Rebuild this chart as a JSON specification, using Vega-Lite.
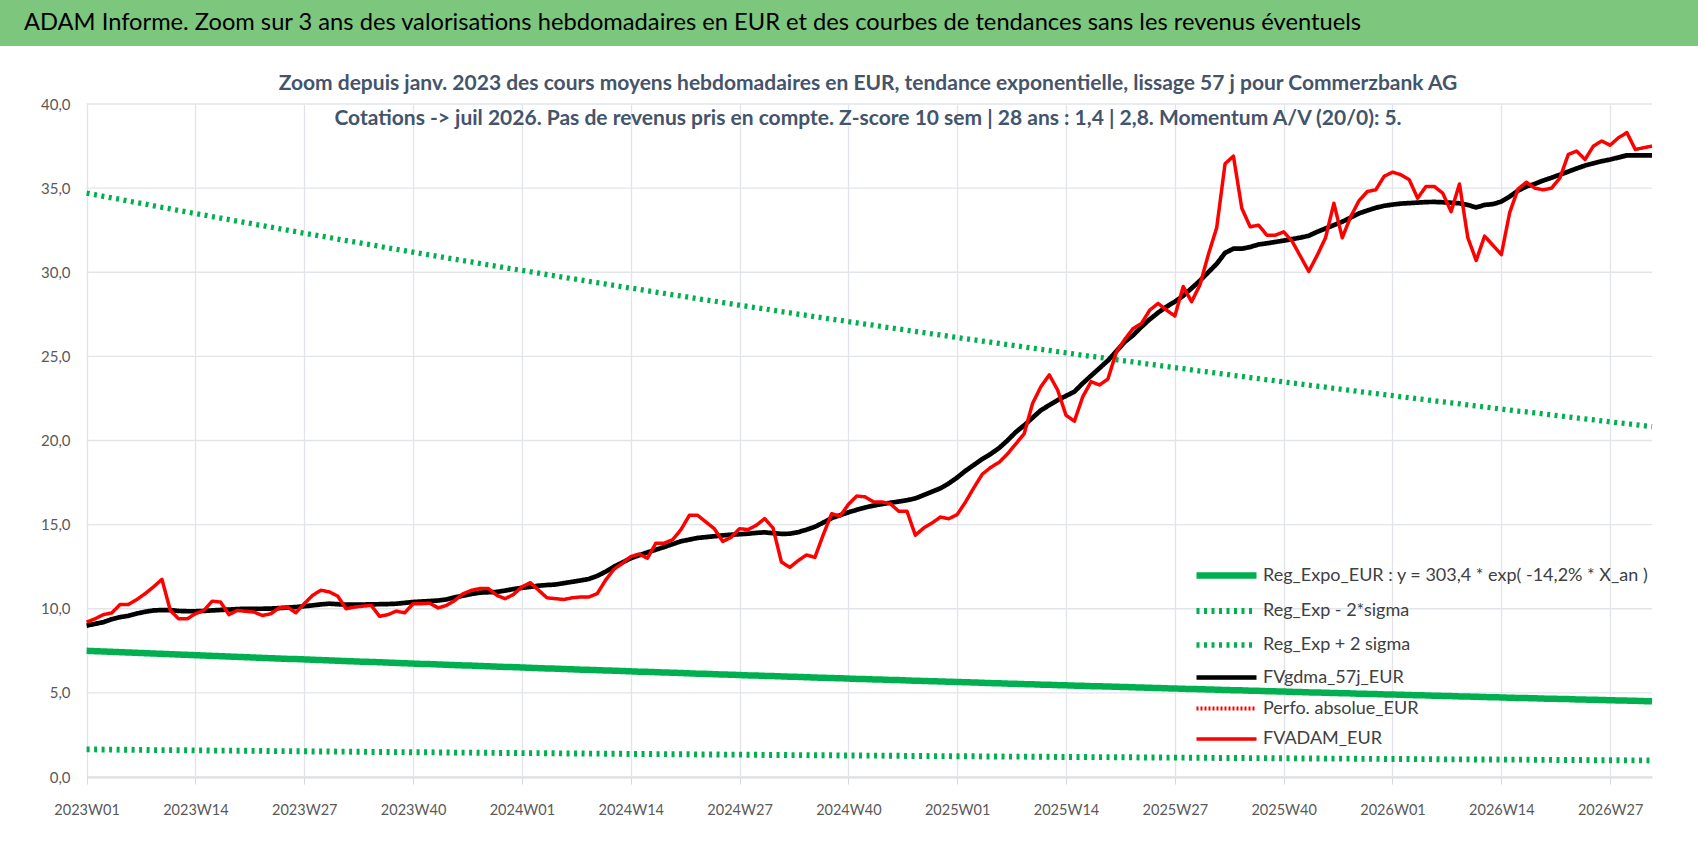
{
  "$schema": "https://vega.github.io/schema/vega-lite/v6.json",
  "background": "white",
  "padding": 0,
  "spacing": 27,
  "columns": 1,
  "align": "none",
  "config": {
    "view": {"stroke": null},
    "font": "Lato",
    "axisX": {
      "labelAngle": 0,
      "labelFontSize": 14.5,
      "labelFont": "Lato",
      "labelColor": "#595959",
      "labelPadding": 19,
      "ticks": true,
      "tickSize": 7,
      "tickColor": "#D9D9D9",
      "domainColor": "#D9D9D9",
      "domainWidth": 2,
      "grid": true,
      "gridColor": "#E1E5EA",
      "gridWidth": 1.3
    },
    "axisY": {
      "domain": false,
      "ticks": false,
      "tickSize": 0,
      "grid": false,
      "labelAlign": "right",
      "labelFontSize": 15,
      "labelFont": "Lato",
      "labelColor": "#595959",
      "labelPadding": -70,
      "minExtent": 0,
      "maxExtent": 0
    }
  },
  "datasets": {
    "w": [
      {"week":"2023W01","fv":9.2,"ma":9.0,"reg":7.50,"lo":1.64,"hi":34.70},
      {"week":"2023W02","fv":9.4,"ma":9.1,"reg":7.48,"lo":1.64,"hi":34.61},
      {"week":"2023W03","fv":9.65,"ma":9.2,"reg":7.46,"lo":1.63,"hi":34.51},
      {"week":"2023W04","fv":9.75,"ma":9.38,"reg":7.44,"lo":1.63,"hi":34.42},
      {"week":"2023W05","fv":10.25,"ma":9.5,"reg":7.42,"lo":1.62,"hi":34.33},
      {"week":"2023W06","fv":10.25,"ma":9.58,"reg":7.40,"lo":1.62,"hi":34.23},
      {"week":"2023W07","fv":10.55,"ma":9.72,"reg":7.38,"lo":1.61,"hi":34.14},
      {"week":"2023W08","fv":10.9,"ma":9.82,"reg":7.36,"lo":1.61,"hi":34.05},
      {"week":"2023W09","fv":11.3,"ma":9.9,"reg":7.34,"lo":1.60,"hi":33.95},
      {"week":"2023W10","fv":11.75,"ma":9.92,"reg":7.32,"lo":1.60,"hi":33.86},
      {"week":"2023W11","fv":9.9,"ma":9.92,"reg":7.30,"lo":1.60,"hi":33.77},
      {"week":"2023W12","fv":9.4,"ma":9.87,"reg":7.28,"lo":1.59,"hi":33.67},
      {"week":"2023W13","fv":9.4,"ma":9.85,"reg":7.26,"lo":1.59,"hi":33.58},
      {"week":"2023W14","fv":9.7,"ma":9.85,"reg":7.24,"lo":1.58,"hi":33.49},
      {"week":"2023W15","fv":9.9,"ma":9.87,"reg":7.22,"lo":1.58,"hi":33.40},
      {"week":"2023W16","fv":10.45,"ma":9.9,"reg":7.20,"lo":1.57,"hi":33.31},
      {"week":"2023W17","fv":10.4,"ma":9.93,"reg":7.18,"lo":1.57,"hi":33.22},
      {"week":"2023W18","fv":9.65,"ma":9.95,"reg":7.16,"lo":1.57,"hi":33.13},
      {"week":"2023W19","fv":9.9,"ma":9.98,"reg":7.14,"lo":1.56,"hi":33.04},
      {"week":"2023W20","fv":9.85,"ma":10.0,"reg":7.12,"lo":1.56,"hi":32.95},
      {"week":"2023W21","fv":9.8,"ma":10.0,"reg":7.10,"lo":1.55,"hi":32.86},
      {"week":"2023W22","fv":9.6,"ma":10.0,"reg":7.08,"lo":1.55,"hi":32.77},
      {"week":"2023W23","fv":9.7,"ma":10.01,"reg":7.06,"lo":1.54,"hi":32.68},
      {"week":"2023W24","fv":10.05,"ma":10.04,"reg":7.04,"lo":1.54,"hi":32.59},
      {"week":"2023W25","fv":10.1,"ma":10.07,"reg":7.02,"lo":1.54,"hi":32.50},
      {"week":"2023W26","fv":9.76,"ma":10.1,"reg":7.01,"lo":1.53,"hi":32.41},
      {"week":"2023W27","fv":10.3,"ma":10.15,"reg":6.99,"lo":1.53,"hi":32.32},
      {"week":"2023W28","fv":10.8,"ma":10.2,"reg":6.97,"lo":1.52,"hi":32.24},
      {"week":"2023W29","fv":11.1,"ma":10.26,"reg":6.95,"lo":1.52,"hi":32.15},
      {"week":"2023W30","fv":11.0,"ma":10.3,"reg":6.93,"lo":1.52,"hi":32.06},
      {"week":"2023W31","fv":10.75,"ma":10.27,"reg":6.91,"lo":1.51,"hi":31.97},
      {"week":"2023W32","fv":10.0,"ma":10.24,"reg":6.89,"lo":1.51,"hi":31.88},
      {"week":"2023W33","fv":10.1,"ma":10.24,"reg":6.87,"lo":1.50,"hi":31.80},
      {"week":"2023W34","fv":10.15,"ma":10.25,"reg":6.85,"lo":1.50,"hi":31.71},
      {"week":"2023W35","fv":10.2,"ma":10.26,"reg":6.84,"lo":1.49,"hi":31.63},
      {"week":"2023W36","fv":9.55,"ma":10.27,"reg":6.82,"lo":1.49,"hi":31.54},
      {"week":"2023W37","fv":9.65,"ma":10.28,"reg":6.80,"lo":1.49,"hi":31.45},
      {"week":"2023W38","fv":9.86,"ma":10.3,"reg":6.78,"lo":1.48,"hi":31.37},
      {"week":"2023W39","fv":9.76,"ma":10.35,"reg":6.76,"lo":1.48,"hi":31.28},
      {"week":"2023W40","fv":10.3,"ma":10.4,"reg":6.74,"lo":1.47,"hi":31.20},
      {"week":"2023W41","fv":10.3,"ma":10.43,"reg":6.72,"lo":1.47,"hi":31.11},
      {"week":"2023W42","fv":10.33,"ma":10.46,"reg":6.71,"lo":1.47,"hi":31.03},
      {"week":"2023W43","fv":10.05,"ma":10.49,"reg":6.69,"lo":1.46,"hi":30.94},
      {"week":"2023W44","fv":10.2,"ma":10.55,"reg":6.67,"lo":1.46,"hi":30.86},
      {"week":"2023W45","fv":10.5,"ma":10.68,"reg":6.65,"lo":1.45,"hi":30.77},
      {"week":"2023W46","fv":10.9,"ma":10.78,"reg":6.63,"lo":1.45,"hi":30.69},
      {"week":"2023W47","fv":11.1,"ma":10.88,"reg":6.62,"lo":1.45,"hi":30.61},
      {"week":"2023W48","fv":11.2,"ma":10.96,"reg":6.60,"lo":1.44,"hi":30.52},
      {"week":"2023W49","fv":11.2,"ma":10.98,"reg":6.58,"lo":1.44,"hi":30.44},
      {"week":"2023W50","fv":10.8,"ma":11.0,"reg":6.56,"lo":1.43,"hi":30.36},
      {"week":"2023W51","fv":10.6,"ma":11.08,"reg":6.54,"lo":1.43,"hi":30.27},
      {"week":"2023W52","fv":10.85,"ma":11.17,"reg":6.53,"lo":1.43,"hi":30.19},
      {"week":"2024W01","fv":11.3,"ma":11.24,"reg":6.51,"lo":1.42,"hi":30.11},
      {"week":"2024W02","fv":11.55,"ma":11.3,"reg":6.49,"lo":1.42,"hi":30.03},
      {"week":"2024W03","fv":11.1,"ma":11.37,"reg":6.47,"lo":1.42,"hi":29.95},
      {"week":"2024W04","fv":10.65,"ma":11.41,"reg":6.45,"lo":1.41,"hi":29.86},
      {"week":"2024W05","fv":10.6,"ma":11.44,"reg":6.44,"lo":1.41,"hi":29.78},
      {"week":"2024W06","fv":10.55,"ma":11.52,"reg":6.42,"lo":1.40,"hi":29.70},
      {"week":"2024W07","fv":10.65,"ma":11.6,"reg":6.40,"lo":1.40,"hi":29.62},
      {"week":"2024W08","fv":10.7,"ma":11.68,"reg":6.38,"lo":1.40,"hi":29.54},
      {"week":"2024W09","fv":10.7,"ma":11.77,"reg":6.37,"lo":1.39,"hi":29.46},
      {"week":"2024W10","fv":10.9,"ma":11.95,"reg":6.35,"lo":1.39,"hi":29.38},
      {"week":"2024W11","fv":11.7,"ma":12.2,"reg":6.33,"lo":1.38,"hi":29.30},
      {"week":"2024W12","fv":12.35,"ma":12.5,"reg":6.32,"lo":1.38,"hi":29.22},
      {"week":"2024W13","fv":12.7,"ma":12.75,"reg":6.30,"lo":1.38,"hi":29.14},
      {"week":"2024W14","fv":13.1,"ma":13.0,"reg":6.28,"lo":1.37,"hi":29.06},
      {"week":"2024W15","fv":13.25,"ma":13.18,"reg":6.26,"lo":1.37,"hi":28.98},
      {"week":"2024W16","fv":13.0,"ma":13.35,"reg":6.25,"lo":1.37,"hi":28.90},
      {"week":"2024W17","fv":13.9,"ma":13.51,"reg":6.23,"lo":1.36,"hi":28.82},
      {"week":"2024W18","fv":13.9,"ma":13.67,"reg":6.21,"lo":1.36,"hi":28.74},
      {"week":"2024W19","fv":14.1,"ma":13.84,"reg":6.20,"lo":1.35,"hi":28.66},
      {"week":"2024W20","fv":14.7,"ma":14.01,"reg":6.18,"lo":1.35,"hi":28.59},
      {"week":"2024W21","fv":15.55,"ma":14.11,"reg":6.16,"lo":1.35,"hi":28.51},
      {"week":"2024W22","fv":15.55,"ma":14.21,"reg":6.14,"lo":1.34,"hi":28.43},
      {"week":"2024W23","fv":15.15,"ma":14.26,"reg":6.13,"lo":1.34,"hi":28.35},
      {"week":"2024W24","fv":14.75,"ma":14.31,"reg":6.11,"lo":1.34,"hi":28.28},
      {"week":"2024W25","fv":14.0,"ma":14.36,"reg":6.09,"lo":1.33,"hi":28.20},
      {"week":"2024W26","fv":14.25,"ma":14.4,"reg":6.08,"lo":1.33,"hi":28.12},
      {"week":"2024W27","fv":14.76,"ma":14.43,"reg":6.06,"lo":1.33,"hi":28.04},
      {"week":"2024W28","fv":14.7,"ma":14.46,"reg":6.04,"lo":1.32,"hi":27.97},
      {"week":"2024W29","fv":14.96,"ma":14.51,"reg":6.03,"lo":1.32,"hi":27.89},
      {"week":"2024W30","fv":15.36,"ma":14.54,"reg":6.01,"lo":1.31,"hi":27.82},
      {"week":"2024W31","fv":14.8,"ma":14.49,"reg":6.00,"lo":1.31,"hi":27.74},
      {"week":"2024W32","fv":12.78,"ma":14.45,"reg":5.98,"lo":1.31,"hi":27.66},
      {"week":"2024W33","fv":12.46,"ma":14.46,"reg":5.96,"lo":1.30,"hi":27.59},
      {"week":"2024W34","fv":12.86,"ma":14.55,"reg":5.95,"lo":1.30,"hi":27.51},
      {"week":"2024W35","fv":13.2,"ma":14.7,"reg":5.93,"lo":1.30,"hi":27.44},
      {"week":"2024W36","fv":13.05,"ma":14.87,"reg":5.91,"lo":1.29,"hi":27.36},
      {"week":"2024W37","fv":14.4,"ma":15.12,"reg":5.90,"lo":1.29,"hi":27.29},
      {"week":"2024W38","fv":15.65,"ma":15.39,"reg":5.88,"lo":1.29,"hi":27.21},
      {"week":"2024W39","fv":15.5,"ma":15.56,"reg":5.87,"lo":1.28,"hi":27.14},
      {"week":"2024W40","fv":16.2,"ma":15.73,"reg":5.85,"lo":1.28,"hi":27.07},
      {"week":"2024W41","fv":16.7,"ma":15.88,"reg":5.83,"lo":1.28,"hi":26.99},
      {"week":"2024W42","fv":16.65,"ma":16.02,"reg":5.82,"lo":1.27,"hi":26.92},
      {"week":"2024W43","fv":16.35,"ma":16.13,"reg":5.80,"lo":1.27,"hi":26.85},
      {"week":"2024W44","fv":16.35,"ma":16.22,"reg":5.79,"lo":1.27,"hi":26.77},
      {"week":"2024W45","fv":16.25,"ma":16.3,"reg":5.77,"lo":1.26,"hi":26.70},
      {"week":"2024W46","fv":15.8,"ma":16.37,"reg":5.76,"lo":1.26,"hi":26.63},
      {"week":"2024W47","fv":15.8,"ma":16.45,"reg":5.74,"lo":1.25,"hi":26.55},
      {"week":"2024W48","fv":14.37,"ma":16.56,"reg":5.72,"lo":1.25,"hi":26.48},
      {"week":"2024W49","fv":14.8,"ma":16.76,"reg":5.71,"lo":1.25,"hi":26.41},
      {"week":"2024W50","fv":15.1,"ma":16.96,"reg":5.69,"lo":1.24,"hi":26.34},
      {"week":"2024W51","fv":15.45,"ma":17.16,"reg":5.68,"lo":1.24,"hi":26.27},
      {"week":"2024W52","fv":15.35,"ma":17.45,"reg":5.66,"lo":1.24,"hi":26.19},
      {"week":"2025W01","fv":15.6,"ma":17.8,"reg":5.65,"lo":1.23,"hi":26.12},
      {"week":"2025W02","fv":16.35,"ma":18.2,"reg":5.63,"lo":1.23,"hi":26.05},
      {"week":"2025W03","fv":17.2,"ma":18.55,"reg":5.62,"lo":1.23,"hi":25.98},
      {"week":"2025W04","fv":18.0,"ma":18.9,"reg":5.60,"lo":1.22,"hi":25.91},
      {"week":"2025W05","fv":18.4,"ma":19.2,"reg":5.58,"lo":1.22,"hi":25.84},
      {"week":"2025W06","fv":18.7,"ma":19.55,"reg":5.57,"lo":1.22,"hi":25.77},
      {"week":"2025W07","fv":19.2,"ma":20.0,"reg":5.55,"lo":1.21,"hi":25.70},
      {"week":"2025W08","fv":19.8,"ma":20.5,"reg":5.54,"lo":1.21,"hi":25.63},
      {"week":"2025W09","fv":20.4,"ma":20.9,"reg":5.52,"lo":1.21,"hi":25.56},
      {"week":"2025W10","fv":22.2,"ma":21.35,"reg":5.51,"lo":1.20,"hi":25.49},
      {"week":"2025W11","fv":23.2,"ma":21.8,"reg":5.49,"lo":1.20,"hi":25.42},
      {"week":"2025W12","fv":23.9,"ma":22.1,"reg":5.48,"lo":1.20,"hi":25.35},
      {"week":"2025W13","fv":23.0,"ma":22.4,"reg":5.46,"lo":1.19,"hi":25.28},
      {"week":"2025W14","fv":21.5,"ma":22.65,"reg":5.45,"lo":1.19,"hi":25.21},
      {"week":"2025W15","fv":21.15,"ma":22.9,"reg":5.43,"lo":1.19,"hi":25.14},
      {"week":"2025W16","fv":22.6,"ma":23.4,"reg":5.42,"lo":1.19,"hi":25.07},
      {"week":"2025W17","fv":23.5,"ma":23.85,"reg":5.40,"lo":1.18,"hi":25.00},
      {"week":"2025W18","fv":23.3,"ma":24.3,"reg":5.39,"lo":1.18,"hi":24.94},
      {"week":"2025W19","fv":23.65,"ma":24.75,"reg":5.38,"lo":1.18,"hi":24.87},
      {"week":"2025W20","fv":25.25,"ma":25.3,"reg":5.36,"lo":1.17,"hi":24.80},
      {"week":"2025W21","fv":26.0,"ma":25.85,"reg":5.35,"lo":1.17,"hi":24.73},
      {"week":"2025W22","fv":26.65,"ma":26.25,"reg":5.33,"lo":1.17,"hi":24.67},
      {"week":"2025W23","fv":26.95,"ma":26.75,"reg":5.32,"lo":1.16,"hi":24.60},
      {"week":"2025W24","fv":27.75,"ma":27.2,"reg":5.30,"lo":1.16,"hi":24.53},
      {"week":"2025W25","fv":28.15,"ma":27.6,"reg":5.29,"lo":1.16,"hi":24.47},
      {"week":"2025W26","fv":27.75,"ma":27.95,"reg":5.27,"lo":1.15,"hi":24.40},
      {"week":"2025W27","fv":27.4,"ma":28.25,"reg":5.26,"lo":1.15,"hi":24.33},
      {"week":"2025W28","fv":29.15,"ma":28.6,"reg":5.24,"lo":1.15,"hi":24.27},
      {"week":"2025W29","fv":28.25,"ma":29.05,"reg":5.23,"lo":1.14,"hi":24.20},
      {"week":"2025W30","fv":29.25,"ma":29.5,"reg":5.22,"lo":1.14,"hi":24.13},
      {"week":"2025W31","fv":31.05,"ma":30.0,"reg":5.20,"lo":1.14,"hi":24.07},
      {"week":"2025W32","fv":32.65,"ma":30.5,"reg":5.19,"lo":1.13,"hi":24.00},
      {"week":"2025W33","fv":36.45,"ma":31.15,"reg":5.17,"lo":1.13,"hi":23.94},
      {"week":"2025W34","fv":36.9,"ma":31.4,"reg":5.16,"lo":1.13,"hi":23.87},
      {"week":"2025W35","fv":33.8,"ma":31.4,"reg":5.15,"lo":1.13,"hi":23.81},
      {"week":"2025W36","fv":32.7,"ma":31.5,"reg":5.13,"lo":1.12,"hi":23.74},
      {"week":"2025W37","fv":32.8,"ma":31.65,"reg":5.12,"lo":1.12,"hi":23.68},
      {"week":"2025W38","fv":32.2,"ma":31.72,"reg":5.10,"lo":1.12,"hi":23.61},
      {"week":"2025W39","fv":32.2,"ma":31.8,"reg":5.09,"lo":1.11,"hi":23.55},
      {"week":"2025W40","fv":32.4,"ma":31.88,"reg":5.08,"lo":1.11,"hi":23.48},
      {"week":"2025W41","fv":31.85,"ma":31.97,"reg":5.06,"lo":1.11,"hi":23.42},
      {"week":"2025W42","fv":30.95,"ma":32.06,"reg":5.05,"lo":1.10,"hi":23.36},
      {"week":"2025W43","fv":30.05,"ma":32.17,"reg":5.03,"lo":1.10,"hi":23.29},
      {"week":"2025W44","fv":31.0,"ma":32.4,"reg":5.02,"lo":1.10,"hi":23.23},
      {"week":"2025W45","fv":32.05,"ma":32.6,"reg":5.01,"lo":1.09,"hi":23.17},
      {"week":"2025W46","fv":34.1,"ma":32.8,"reg":4.99,"lo":1.09,"hi":23.10},
      {"week":"2025W47","fv":32.05,"ma":33.0,"reg":4.98,"lo":1.09,"hi":23.04},
      {"week":"2025W48","fv":33.3,"ma":33.25,"reg":4.97,"lo":1.09,"hi":22.98},
      {"week":"2025W49","fv":34.25,"ma":33.5,"reg":4.95,"lo":1.08,"hi":22.91},
      {"week":"2025W50","fv":34.8,"ma":33.67,"reg":4.94,"lo":1.08,"hi":22.85},
      {"week":"2025W51","fv":34.9,"ma":33.83,"reg":4.93,"lo":1.08,"hi":22.79},
      {"week":"2025W52","fv":35.7,"ma":33.95,"reg":4.91,"lo":1.07,"hi":22.73},
      {"week":"2026W01","fv":35.95,"ma":34.02,"reg":4.90,"lo":1.07,"hi":22.67},
      {"week":"2026W02","fv":35.8,"ma":34.08,"reg":4.89,"lo":1.07,"hi":22.60},
      {"week":"2026W03","fv":35.5,"ma":34.11,"reg":4.87,"lo":1.07,"hi":22.54},
      {"week":"2026W04","fv":34.4,"ma":34.14,"reg":4.86,"lo":1.06,"hi":22.48},
      {"week":"2026W05","fv":35.1,"ma":34.17,"reg":4.85,"lo":1.06,"hi":22.42},
      {"week":"2026W06","fv":35.1,"ma":34.18,"reg":4.83,"lo":1.06,"hi":22.36},
      {"week":"2026W07","fv":34.7,"ma":34.16,"reg":4.82,"lo":1.05,"hi":22.30},
      {"week":"2026W08","fv":33.6,"ma":34.13,"reg":4.81,"lo":1.05,"hi":22.24},
      {"week":"2026W09","fv":35.25,"ma":34.1,"reg":4.79,"lo":1.05,"hi":22.18},
      {"week":"2026W10","fv":32.05,"ma":34.0,"reg":4.78,"lo":1.05,"hi":22.11},
      {"week":"2026W11","fv":30.7,"ma":33.85,"reg":4.77,"lo":1.04,"hi":22.05},
      {"week":"2026W12","fv":32.15,"ma":34.0,"reg":4.75,"lo":1.04,"hi":21.99},
      {"week":"2026W13","fv":31.6,"ma":34.05,"reg":4.74,"lo":1.04,"hi":21.93},
      {"week":"2026W14","fv":31.05,"ma":34.2,"reg":4.73,"lo":1.03,"hi":21.87},
      {"week":"2026W15","fv":33.55,"ma":34.5,"reg":4.71,"lo":1.03,"hi":21.81},
      {"week":"2026W16","fv":34.95,"ma":34.85,"reg":4.70,"lo":1.03,"hi":21.75},
      {"week":"2026W17","fv":35.35,"ma":35.1,"reg":4.69,"lo":1.03,"hi":21.70},
      {"week":"2026W18","fv":35.0,"ma":35.25,"reg":4.68,"lo":1.02,"hi":21.64},
      {"week":"2026W19","fv":34.9,"ma":35.45,"reg":4.66,"lo":1.02,"hi":21.58},
      {"week":"2026W20","fv":35.0,"ma":35.62,"reg":4.65,"lo":1.02,"hi":21.52},
      {"week":"2026W21","fv":35.6,"ma":35.8,"reg":4.64,"lo":1.01,"hi":21.46},
      {"week":"2026W22","fv":37.0,"ma":35.98,"reg":4.63,"lo":1.01,"hi":21.40},
      {"week":"2026W23","fv":37.2,"ma":36.17,"reg":4.61,"lo":1.01,"hi":21.34},
      {"week":"2026W24","fv":36.7,"ma":36.34,"reg":4.60,"lo":1.01,"hi":21.28},
      {"week":"2026W25","fv":37.5,"ma":36.47,"reg":4.59,"lo":1.00,"hi":21.23},
      {"week":"2026W26","fv":37.8,"ma":36.6,"reg":4.58,"lo":1.00,"hi":21.17},
      {"week":"2026W27","fv":37.55,"ma":36.7,"reg":4.56,"lo":1.00,"hi":21.11},
      {"week":"2026W28","fv":38.0,"ma":36.82,"reg":4.55,"lo":1.00,"hi":21.05},
      {"week":"2026W29","fv":38.3,"ma":36.95,"reg":4.54,"lo":0.99,"hi":21.00},
      {"week":"2026W30","fv":37.3,"ma":36.95,"reg":4.53,"lo":0.99,"hi":20.94},
      {"week":"2026W31","fv":37.4,"ma":36.95,"reg":4.51,"lo":0.99,"hi":20.88},
      {"week":"2026W32","fv":37.5,"ma":36.95,"reg":4.50,"lo":0.98,"hi":20.82}
    ]
  },
  "concat": [
    {
      "width": 1698,
      "height": 46,
      "view": {"fill": "#7DC67E", "stroke": null},
      "data": {"values": [{"t": "ADAM Informe. Zoom sur 3 ans des valorisations hebdomadaires en EUR et des courbes de tendances sans les revenus éventuels"}]},
      "mark": {"type": "text", "align": "left", "baseline": "middle", "dx": 24, "fontSize": 23.7, "color": "#000000", "font": "Lato"},
      "encoding": {
        "text": {"field": "t"},
        "x": {"datum": 0, "type": "quantitative", "scale": {"domain": [0, 1]}, "axis": null}
      }
    },
    {
      "width": 1652,
      "height": 673,
      "title": {
        "text": [
          "Zoom depuis janv. 2023 des cours moyens hebdomadaires en EUR, tendance exponentielle, lissage 57 j pour Commerzbank AG",
          "Cotations -> juil 2026.  Pas de revenus pris en compte. Z-score 10 sem | 28 ans : 1,4 | 2,8. Momentum A/V (20/0): 5."
        ],
        "anchor": "middle",
        "offset": -32.4,
        "dx": 42,
        "fontSize": 21,
        "fontWeight": "bold",
        "color": "#44546A",
        "lineHeight": 35,
        "font": "Lato"
      },
      "layer": [
        {
          "data": {"values": [{"g": 0}, {"g": 5}, {"g": 10}, {"g": 15}, {"g": 20}, {"g": 25}, {"g": 30}, {"g": 35}, {"g": 40}]},
          "mark": {"type": "rule", "color": "#E1E5EA", "strokeWidth": 1.3},
          "encoding": {
            "y": {
              "field": "g",
              "type": "quantitative",
              "scale": {"domain": [0, 40], "nice": false},
              "axis": {
                "values": [0, 5, 10, 15, 20, 25, 30, 35, 40],
                "labelExpr": "replace(format(datum.value, '.1f'), '.', ',')",
                "title": null
              }
            },
            "x": {
              "datum": "2023W01",
              "type": "ordinal",
              "axis": {
                "values": ["2023W01","2023W14","2023W27","2023W40","2024W01","2024W14","2024W27","2024W40","2025W01","2025W14","2025W27","2025W40","2026W01","2026W14","2026W27"],
                "title": null
              }
            },
            "x2": {"datum": "2026W32"}
          }
        },
        {
          "data": {"name": "w"},
          "transform": [{"fold": ["hi", "lo", "reg", "ma", "fv"], "as": ["serie", "val"]}],
          "mark": {"type": "line", "strokeJoin": "round"},
          "encoding": {
            "x": {
              "field": "week",
              "type": "ordinal",
              "scale": {"type": "point", "padding": 0, "range": [86.6, 1652]},
              "axis": {
                "values": ["2023W01","2023W14","2023W27","2023W40","2024W01","2024W14","2024W27","2024W40","2025W01","2025W14","2025W27","2025W40","2026W01","2026W14","2026W27"],
                "title": null
              }
            },
            "y": {
              "field": "val",
              "type": "quantitative",
              "scale": {"domain": [0, 40], "nice": false},
              "axis": {
                "values": [0, 5, 10, 15, 20, 25, 30, 35, 40],
                "labelExpr": "replace(format(datum.value, '.1f'), '.', ',')",
                "title": null
              }
            },
            "color": {
              "field": "serie",
              "type": "nominal",
              "scale": {
                "domain": ["reg", "lo", "hi", "ma", "perfo", "fv"],
                "range": ["#00B050", "#00B050", "#00B050", "#000000", "#FF0000", "#FF0000"]
              },
              "legend": {
                "orient": "none",
                "legendX": 1193,
                "legendY": 557,
                "title": null,
                "labelFontSize": 18,
                "labelColor": "#404040",
                "labelFont": "Lato",
                "symbolType": "M-1,0H3",
                "symbolSize": 900,
                "labelOffset": 33,
                "rowPadding": 4,
                "labelLimit": 600,
                "labelExpr": "datum.label == 'reg' ? 'Reg_Expo_EUR : y = 303,4 * exp( -14,2% *  X_an )' : datum.label == 'lo' ? 'Reg_Exp - 2*sigma' : datum.label == 'hi' ? 'Reg_Exp + 2 sigma' : datum.label == 'ma' ? 'FVgdma_57j_EUR' : datum.label == 'perfo' ? 'Perfo. absolue_EUR' : 'FVADAM_EUR'"
              }
            },
            "strokeDash": {
              "field": "serie",
              "type": "nominal",
              "scale": {
                "domain": ["reg", "lo", "hi", "ma", "perfo", "fv"],
                "range": [[1, 0], [3, 4.5], [3, 4.5], [1, 0], [2, 2], [1, 0]]
              }
            },
            "strokeWidth": {
              "field": "serie",
              "type": "ordinal",
              "scale": {
                "domain": ["reg", "lo", "hi", "ma", "perfo", "fv"],
                "range": [6.5, 3.5, 3.5, 3.8, 2, 4.5]
              }
            }
          }
        }
      ]
    }
  ]
}
